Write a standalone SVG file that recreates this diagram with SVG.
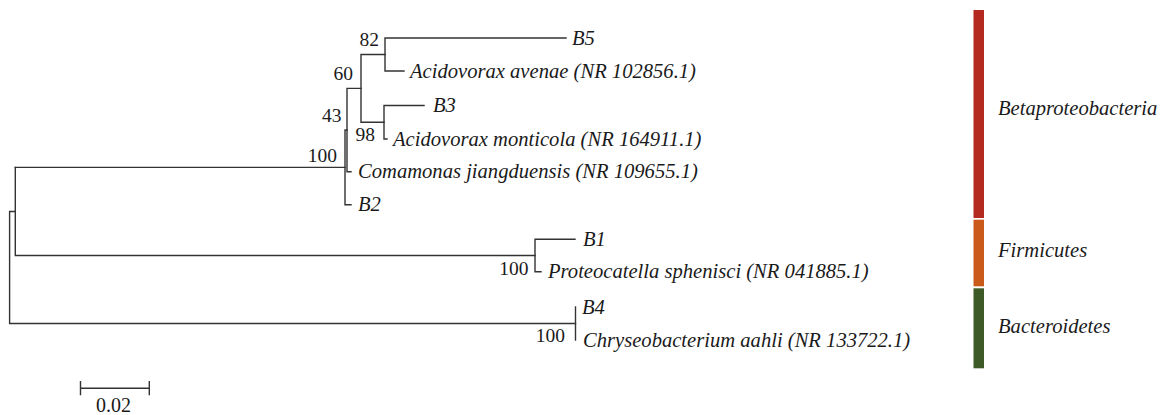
<svg xmlns="http://www.w3.org/2000/svg" width="1164" height="415" viewBox="0 0 1164 415">
<style>
.br{fill:none;stroke:#333;stroke-width:1.4;stroke-linecap:square}
.lf{font-family:"Liberation Serif","Times New Roman",serif;font-style:italic;font-size:20.6px;fill:#1a1a1a}
.bs{font-family:"Liberation Serif","Times New Roman",serif;font-size:19.5px;fill:#1a1a1a;text-anchor:end}
.sc{font-family:"Liberation Serif","Times New Roman",serif;font-size:20px;fill:#1a1a1a}
</style>
<rect width="1164" height="415" fill="#fff"/>
<g id="connectors" class="br">
<path d="M385,38 H566 M385,38 V71 H404"/>
<path d="M384,105.5 H424 M384,105.5 V139 H387"/>
<path d="M361,54.5 H385 M361,54.5 V122.25 H384"/>
<path d="M347,88.4 H361 M347,88.4 V171.7 H351"/>
<path d="M345,130 H347 M345,130 V204.7 H351"/>
<path d="M15.3,167.4 H345"/>
<path d="M535,239.3 H575 M535,239.3 V271.7 H541"/>
<path d="M575.5,307 V340"/>
<path d="M15.3,167.4 V255.5 H535"/>
<path d="M9.6,211.5 H15.3 M9.6,211.5 V323.5 H575.5"/>
</g>
<g id="leaf-B5"><text class="lf" x="572" y="44.5">B5</text></g>
<g id="leaf-avenae"><text class="lf" x="410" y="77.5">Acidovorax avenae (NR 102856.1)</text></g>
<g id="leaf-B3"><text class="lf" x="433" y="112">B3</text></g>
<g id="leaf-monticola"><text class="lf" x="393" y="145.5">Acidovorax monticola (NR 164911.1)</text></g>
<g id="leaf-comamonas"><text class="lf" x="358" y="178.2">Comamonas jiangduensis (NR 109655.1)</text></g>
<g id="leaf-B2"><text class="lf" x="358" y="211.2">B2</text></g>
<g id="leaf-B1"><text class="lf" x="583" y="245.8">B1</text></g>
<g id="leaf-proteocatella"><text class="lf" x="548" y="278.2">Proteocatella sphenisci (NR 041885.1)</text></g>
<g id="leaf-B4"><text class="lf" x="582" y="313.5">B4</text></g>
<g id="leaf-chryseobacterium"><text class="lf" x="583" y="346.5">Chryseobacterium aahli (NR 133722.1)</text></g>
<g id="bootstrap">
<text class="bs" x="379" y="46">82</text>
<text class="bs" x="353" y="80">60</text>
<text class="bs" x="341.5" y="121.7">43</text>
<text class="bs" x="375" y="140.7">98</text>
<text class="bs" x="337" y="161.7">100</text>
<text class="bs" x="528.5" y="275">100</text>
<text class="bs" x="565" y="341.7">100</text>
</g>
<g id="scale-bar">
<path class="br" d="M80.5,388.3 H149.3 M80.5,381.7 V394.5 M149.3,381.7 V394.5"/>
<text class="sc" x="96" y="411.7">0.02</text>
</g>
<g id="group-betaproteobacteria">
<rect x="973.5" y="10" width="10.5" height="208" fill="#B52A20"/>
<text class="lf" x="998" y="115">Betaproteobacteria</text>
</g>
<g id="group-firmicutes">
<rect x="973.5" y="219.7" width="10.5" height="66.6" fill="#C95A1A"/>
<text class="lf" x="998" y="257">Firmicutes</text>
</g>
<g id="group-bacteroidetes">
<rect x="973.5" y="288.3" width="10.5" height="80" fill="#3E5A27"/>
<text class="lf" x="998" y="333">Bacteroidetes</text>
</g>
</svg>
